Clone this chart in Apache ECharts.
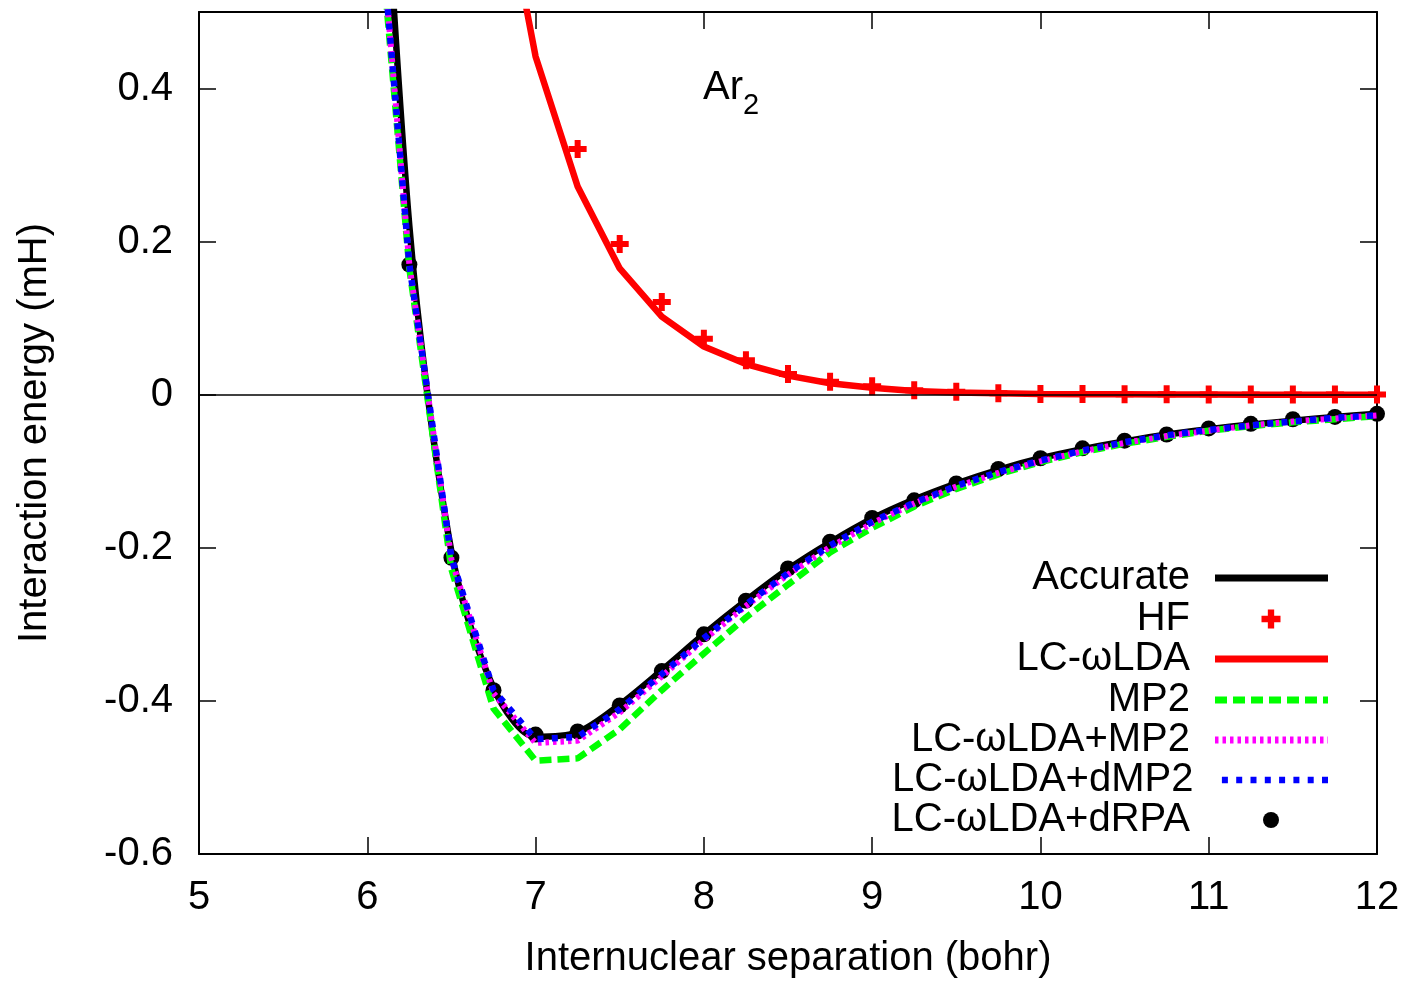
<!DOCTYPE html>
<html>
<head>
<meta charset="utf-8">
<script src="https://cdn.jsdelivr.net/npm/echarts@6/dist/echarts.min.js"></script>
<style>
html,body{margin:0;padding:0;background:#fff;}
#chart{width:1411px;height:984px;}
</style>
</head>
<body>
<div id="chart"></div>
<script>
// ---- data (interaction energy in mH vs separation in bohr) ----
const xLines = [6.0, 6.25, 6.5, 6.75, 7.0, 7.25, 7.5, 7.75, 8.0, 8.25, 8.5, 8.75, 9.0, 9.25, 9.5, 9.75, 10.0, 10.25, 10.5, 10.75, 11.0, 11.25, 11.5, 11.75, 12.0];
const accurate = [1.10, 0.22, -0.205, -0.383, -0.447, -0.441, -0.405, -0.360, -0.313, -0.269, -0.228, -0.193, -0.162, -0.137, -0.116, -0.098, -0.083, -0.071, -0.061, -0.052, -0.045, -0.039, -0.034, -0.029, -0.025];
const mp2 = [0.80, 0.165, -0.228, -0.410, -0.478, -0.475, -0.437, -0.386, -0.338, -0.291, -0.248, -0.206, -0.174, -0.146, -0.123, -0.104, -0.088, -0.075, -0.064, -0.055, -0.047, -0.041, -0.036, -0.032, -0.028];
const lcMp2 = [0.82, 0.17, -0.215, -0.390, -0.455, -0.452, -0.415, -0.368, -0.320, -0.276, -0.235, -0.199, -0.168, -0.142, -0.120, -0.102, -0.087, -0.074, -0.063, -0.054, -0.047, -0.040, -0.035, -0.031, -0.027];
const lcDmp2 = [0.82, 0.17, -0.213, -0.386, -0.450, -0.447, -0.411, -0.365, -0.318, -0.274, -0.233, -0.197, -0.166, -0.141, -0.119, -0.101, -0.086, -0.073, -0.062, -0.053, -0.046, -0.040, -0.035, -0.030, -0.027];

const xLda = [6.75, 7.0, 7.25, 7.5, 7.75, 8.0, 8.25, 8.5, 8.75, 9.0, 9.25, 9.5, 9.75, 10.0, 10.25, 10.5, 10.75, 11.0, 11.25, 11.5, 11.75, 12.0];
const lcLda = [0.73, 0.442, 0.272, 0.165, 0.102, 0.063, 0.040, 0.025, 0.015, 0.009, 0.005, 0.003, 0.002, 0.001, 0.0007, 0.0005, 0.0003, 0.0002, 0.0001, 0.0001, 0.0, 0.0];

const xHF = [7.25, 7.5, 7.75, 8.0, 8.25, 8.5, 8.75, 9.0, 9.25, 9.5, 9.75, 10.0, 10.25, 10.5, 10.75, 11.0, 11.25, 11.5, 11.75, 12.0];
const hf = [0.321, 0.197, 0.121, 0.073, 0.045, 0.027, 0.017, 0.011, 0.006, 0.004, 0.002, 0.001, 0.001, 0.0005, 0.0005, 0.0003, 0.0003, 0.0002, 0.0002, 0.0002];

const xRPA = [6.25, 6.5, 6.75, 7.0, 7.25, 7.5, 7.75, 8.0, 8.25, 8.5, 8.75, 9.0, 9.25, 9.5, 9.75, 10.0, 10.25, 10.5, 10.75, 11.0, 11.25, 11.5, 11.75, 12.0];
const lcDrpa = [0.170, -0.213, -0.386, -0.444, -0.440, -0.406, -0.361, -0.313, -0.269, -0.227, -0.192, -0.161, -0.138, -0.116, -0.097, -0.083, -0.070, -0.060, -0.052, -0.044, -0.038, -0.032, -0.029, -0.025];

const names = ['Accurate', 'HF', 'LC-\u03c9LDA', 'MP2', 'LC-\u03c9LDA+MP2', 'LC-\u03c9LDA+dMP2', 'LC-\u03c9LDA+dRPA'];
const xTitle = 'Internuclear separation (bohr)';
const yTitle = 'Interaction energy (mH)';

const pair = (xs, ys) => xs.map((x, i) => [x, ys[i]]);
const FONT = 'Liberation Sans, Arial, Helvetica, sans-serif';
const plusPath = 'path://M2,0H4V2H6V4H4V6H2V4H0V2H2Z';

// legend sample icons (pure styling)
function dashPath(total, dash, gap, h) {
  let d = '';
  for (let x = 0; x < total; x += dash + gap) {
    const w = Math.min(dash, total - x);
    d += 'M' + x + ',0H' + (x + w) + 'V' + h + 'H' + x + 'Z';
  }
  return 'path://' + d;
}

const chart = echarts.init(document.getElementById('chart'), null, {renderer: 'canvas'});

const axisCommon = {
  axisLine: {show: true, onZero: false, lineStyle: {color: '#000', width: 2}},
  axisTick: {show: true, inside: true, length: 17, lineStyle: {color: '#000', width: 1.5}},
  splitLine: {show: false}
};

const rowCenters = [578, 619, 659, 700, 740, 780, 820];
const iconSpec = [
  {icon: 'rect', w: 113, h: 7},
  {icon: plusPath, w: 19, h: 19},
  {icon: 'rect', w: 113, h: 7},
  {icon: dashPath(113, 12, 6, 7), w: 113, h: 7},
  {icon: dashPath(113, 3.5, 4, 7), w: 113, h: 7},
  {icon: dashPath(113, 6, 8.3, 6.5), w: 113, h: 6.5},
  {icon: 'circle', w: 16, h: 16}
];
const iconCenterX = 1271;
const textRight = 1190;
const legends = names.map((n, i) => {
  const s = iconSpec[i];
  const iconLeft = s.w === 113 ? 1215 : iconCenterX - s.w / 2;
  const iconRight = iconLeft + s.w;
  const pad = iconLeft - 5 - textRight;
  return {
    data: [{name: n, icon: s.icon}],
    right: 1411 - iconRight,
    top: rowCenters[i] - 20,
    orient: 'vertical',
    align: 'right',
    padding: 0,
    itemWidth: s.w,
    itemHeight: s.h,
    symbolKeepAspect: true,
    selectedMode: false,
    textStyle: {fontFamily: FONT, fontSize: 40, color: '#000', lineHeight: 40, padding: [0, pad, 0, 0]}
  };
});

const option = {
  animation: false,
  backgroundColor: '#fff',
  grid: {left: 199, right: 34, top: 12, bottom: 126, containLabel: false},
  legend: legends,
  xAxis: [
    Object.assign({}, axisCommon, {
      type: 'value', position: 'bottom', min: 5, max: 12, interval: 1,
      axisLabel: {fontFamily: FONT, fontSize: 40, color: '#000', margin: 24},
      name: xTitle, nameLocation: 'middle', nameGap: 85,
      nameTextStyle: {fontFamily: FONT, fontSize: 40, color: '#000'}
    }),
    Object.assign({}, axisCommon, {
      type: 'value', position: 'top', min: 5, max: 12, interval: 1,
      axisLabel: {show: false}
    })
  ],
  yAxis: [
    Object.assign({}, axisCommon, {
      type: 'value', position: 'left', min: -0.6, max: 0.5, interval: 0.2,
      axisLabel: {
        fontFamily: FONT, fontSize: 40, color: '#000', margin: 26, showMaxLabel: false,
        formatter: v => {
          const r = Math.round(v * 10) / 10;
          if (Math.abs(r - 0.5) < 1e-9) return '';
          return r === 0 ? '0' : String(r);
        }
      },
      name: yTitle, nameLocation: 'middle', nameGap: 144,
      nameTextStyle: {fontFamily: FONT, fontSize: 40, color: '#000'}
    }),
    Object.assign({}, axisCommon, {
      type: 'value', position: 'right', min: -0.6, max: 0.5, interval: 0.2,
      axisLabel: {show: false}
    })
  ],
  graphic: [
    {type: 'text', left: 703, top: 68, style: {text: 'Ar', font: '40px ' + FONT, fill: '#000'}},
    {type: 'text', left: 743, top: 91, style: {text: '2', font: '29px ' + FONT, fill: '#000'}}
  ],
  series: [
    {
      name: names[0], type: 'line', data: pair(xLines, accurate), smooth: 0.3,
      symbol: 'none', clip: true,
      lineStyle: {color: '#000', width: 6.5},
      itemStyle: {color: '#000'},
      markLine: {
        silent: true, symbol: 'none', label: {show: false},
        lineStyle: {color: '#000', width: 1.5, type: 'solid'},
        data: [{yAxis: 0}]
      }
    },
    {
      name: names[1], type: 'scatter', data: pair(xHF, hf), symbol: plusPath, symbolSize: 18,
      clip: true, itemStyle: {color: '#ff0000', opacity: 1}
    },
    {
      name: names[2], type: 'line', data: pair(xLda, lcLda), symbol: 'none', clip: true,
      lineStyle: {color: '#ff0000', width: 6.5}, itemStyle: {color: '#ff0000'}
    },
    {
      name: names[3], type: 'line', data: pair(xLines, mp2), symbol: 'none', clip: true,
      lineStyle: {color: '#00ff00', width: 6.5, type: [12, 6]}, itemStyle: {color: '#00ff00'}
    },
    {
      name: names[4], type: 'line', data: pair(xLines, lcMp2), symbol: 'none', clip: true,
      lineStyle: {color: '#ff00ff', width: 6, type: [3.5, 4]}, itemStyle: {color: '#ff00ff'}
    },
    {
      name: names[5], type: 'line', data: pair(xLines, lcDmp2), symbol: 'none', clip: true,
      lineStyle: {color: '#0000ff', width: 6.5, type: [6, 8.3]}, itemStyle: {color: '#0000ff'}
    },
    {
      name: names[6], type: 'scatter', data: pair(xRPA, lcDrpa), symbol: 'circle', symbolSize: 16,
      clip: true, itemStyle: {color: '#000', opacity: 1}
    }
  ]
};
chart.setOption(option);
</script>
</body>
</html>
